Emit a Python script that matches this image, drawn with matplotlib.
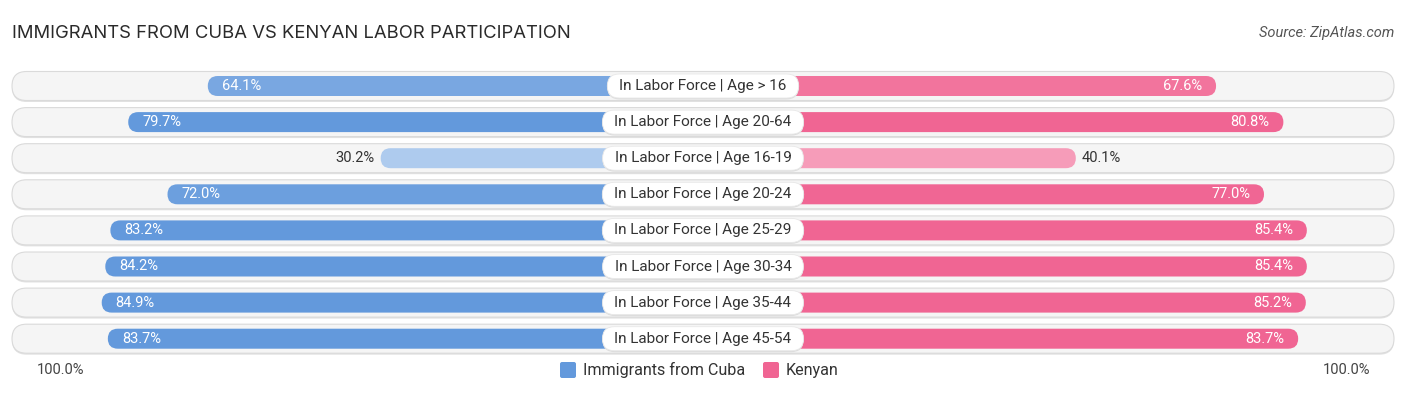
import matplotlib
matplotlib.use("Agg")
import matplotlib.pyplot as plt
from matplotlib.patches import FancyBboxPatch
import matplotlib.colors as mcolors
import numpy as np

categories = ["In Labor Force | Age > 16", "In Labor Force | Age 20-64",
              "In Labor Force | Age 16-19", "In Labor Force | Age 20-24",
              "In Labor Force | Age 25-29", "In Labor Force | Age 30-34",
              "In Labor Force | Age 35-44", "In Labor Force | Age 45-54"]
cuba = [64.1, 79.7, 30.2, 72.0, 83.2, 84.2, 84.9, 83.7]
kenyan = [67.6, 80.8, 40.1, 77.0, 85.4, 85.4, 85.2, 83.7]
series_names = ["Immigrants from Cuba", "Kenyan"]
title = "IMMIGRANTS FROM CUBA VS KENYAN LABOR PARTICIPATION"
source = "Source: ZipAtlas.com"

W, H = 1406, 395
fig = plt.figure(figsize=(W / 100, H / 100), dpi=100)
ax = fig.add_axes([0, 0, 1, 1])
ax.axis("off")

pxx = 5.1      # px per percent
pxy = 36.1     # px per row
cx = 703
y0 = 86
ax.set_xlim(-cx / pxx, (W - cx) / pxx)
ax.set_ylim((H - y0) / pxy, -y0 / pxy)
m = pxx / pxy
off = 33.0     # base offset (percent units) under center label

blue_s, blue_l = np.array(mcolors.to_rgb("#6399dc")), np.array(mcolors.to_rgb("#aecbee"))
pink_s, pink_l = np.array(mcolors.to_rgb("#f06593")), np.array(mcolors.to_rgb("#f8abc3"))

def shade(v, strong, light):
    t = np.clip((v - 30) / 48.0, 0, 1)
    return tuple(light + (strong - light) * t)

def rbox(x0, x1, yc, hpx, **kw):
    hy = hpx / pxy
    r = (hpx / 2) / pxx
    p = FancyBboxPatch((x0, yc - hy / 2), x1 - x0, hy,
                       boxstyle=f"round,pad=0,rounding_size={r}",
                       mutation_aspect=m, **kw)
    ax.add_patch(p)
    return p

fig.canvas.draw()
renderer = fig.canvas.get_renderer()

xl = (12 - cx) / pxx
xr = (1394 - cx) / pxx
for i, (cat, a, b) in enumerate(zip(categories, cuba, kenyan)):
    # track with shadow
    rbox(xl, xr, i + 1.5 / pxy, 29, facecolor="#e2e2e2", edgecolor="none", zorder=1)
    rbox(xl, xr, i, 29, facecolor="#f5f5f5", edgecolor="#dadada", linewidth=0.8, zorder=2)
    # bars
    rbox(-(off + a), 0, i, 20, facecolor=shade(a, blue_s, blue_l), edgecolor="none", zorder=3)
    rbox(0, off + b, i, 20, facecolor=shade(b, pink_s, pink_l), edgecolor="none", zorder=3)
    # value labels
    if a >= 50:
        ax.text(-(off + a) + 14 / pxx, i, f"{a:.1f}%", ha="left", va="center",
                color="white", fontsize=10.5, family="Roboto", zorder=5)
    else:
        ax.text(-(off + a) - 6 / pxx, i, f"{a:.1f}%", ha="right", va="center",
                color="#333333", fontsize=10.5, family="Roboto", zorder=5)
    if b >= 50:
        ax.text(off + b - 14 / pxx, i, f"{b:.1f}%", ha="right", va="center",
                color="white", fontsize=10.5, family="Roboto", zorder=5)
    else:
        ax.text(off + b + 6 / pxx, i, f"{b:.1f}%", ha="left", va="center",
                color="#333333", fontsize=10.5, family="Roboto", zorder=5)
    # center label
    t = ax.text(0, i, cat, ha="center", va="center", fontsize=11, family="Roboto",
                color="#333333", zorder=7)
    bb = t.get_window_extent(renderer)
    half = (bb.width / 2 + 12) / pxx
    rbox(-half, half, i + 1.0 / pxy, 25, facecolor="#dddddd", edgecolor="none", zorder=5)
    rbox(-half, half, i, 24, facecolor="white", edgecolor="#e8e8e8", linewidth=0.6, zorder=6)

ax.text(12 / pxx - cx / pxx, -(y0 - 33) / pxy, title, ha="left", va="center",
        fontsize=13.3, family="Inter", color="#2a2a2a", fontweight="normal")
ax.text((1394 - cx) / pxx, -(y0 - 33) / pxy, source, ha="right", va="center",
        fontsize=10.5, family="Roboto", style="italic", color="#555555")

ly = (370 - y0) / pxy
ax.text((37 - cx) / pxx, ly, "100.0%", ha="left", va="center", fontsize=10.5,
        family="Roboto", color="#444444")
ax.text((1370 - cx) / pxx, ly, "100.0%", ha="right", va="center", fontsize=10.5,
        family="Roboto", color="#444444")

# legend
for (xs, name, col) in [(560, series_names[0], "#6399dc"), (763, series_names[1], "#f06593")]:
    sq = 16
    ax.add_patch(FancyBboxPatch(((xs - cx) / pxx, ly - (sq / 2) / pxy), sq / pxx, sq / pxy,
                                boxstyle="round,pad=0,rounding_size=0.4",
                                mutation_aspect=m, facecolor=col, edgecolor="none"))
    ax.text((xs + sq + 7 - cx) / pxx, ly, name, ha="left", va="center", fontsize=11.6,
            family="Roboto", color="#333333")

fig.savefig("out.png", dpi=100)
